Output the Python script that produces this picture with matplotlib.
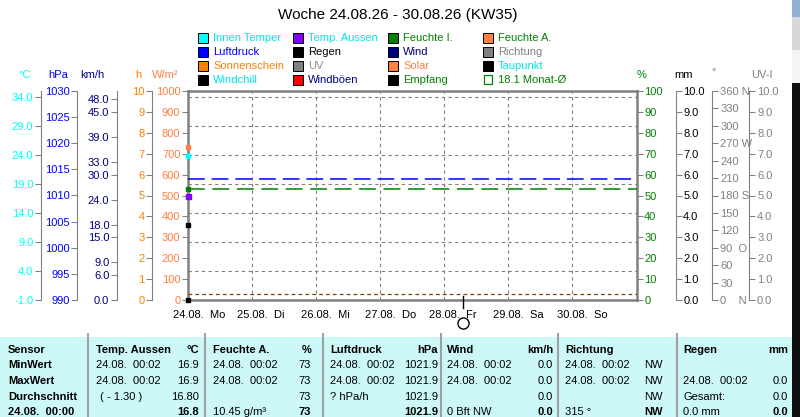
import matplotlib
matplotlib.use("Agg")
import matplotlib.pyplot as plt
from matplotlib.patches import Rectangle
from matplotlib.transforms import ScaledTranslation, blended_transform_factory

plt.rcParams['font.family'] = ['Liberation Sans', 'DejaVu Sans']

W, H = 800, 417

# ---- values ----
title = "Woche 24.08.26 - 30.08.26 (KW35)"
day_labels = ["24.08.  Mo", "25.08.  Di", "26.08.  Mi", "27.08.  Do",
              "28.08.  Fr", "29.08.  Sa", "30.08.  So"]
t_first = [0.0014]          # 24.08. 00:02 (days)
innen_temp = [23.8]         # degC
temp_aussen = [16.9]        # degC
taupunkt = [11.9]           # degC
feuchte_i = [53]            # %
feuchte_a = [73]            # %
regen = [0.0]               # mm
monat_mittel = 18.1         # degC, month average
frost = 0.0                 # degC
luftdruck_norm = 1013.25    # hPa
jetzt = 4.29                # cursor position (days)

temp_ticks = [-1, 4, 9, 14, 19, 24, 29, 34]
hpa_ticks = [990, 995, 1000, 1005, 1010, 1015, 1020, 1025, 1030]
kmh_ticks = [0, 6, 9, 15, 18, 24, 30, 33, 39, 45, 48]
sun_ticks = list(range(0, 11))
solar_ticks = list(range(0, 1001, 100))
pct_ticks = list(range(0, 101, 10))
mm_ticks = list(range(0, 11))
deg_ticks = list(range(0, 361, 30))
deg_labels = ["0    N", "30", "60", "90  O", "120", "150", "180 S", "210",
              "240", "270 W", "300", "330", "360 N"]
uv_ticks = list(range(0, 11))

legend_names = [["Innen Temper", "Temp. Aussen", "Feuchte I.", "Feuchte A."],
                ["Luftdruck", "Regen", "Wind", "Richtung"],
                ["Sonnenschein", "UV", "Solar", "Taupunkt"],
                ["Windchill", "Windböen", "Empfang", "18.1 Monat-Ø"]]
legend_box = [["#00ffff", "#8000ff", "#008000", "#ff8040"],
              ["#0000ff", "#000000", "#000080", "#808080"],
              ["#ff8000", "#808080", "#ff8040", "#000000"],
              ["#000000", "#ff0000", "#000000", None]]
legend_text = [["#00e8e8", "#00e8e8", "#008000", "#008000"],
               ["#0000ff", "#000000", "#000080", "#808080"],
               ["#ff8000", "#909090", "#ff8040", "#00e8e8"],
               ["#00e8e8", "#000080", "#008000", "#008000"]]

table_head = ["Temp. Aussen", "Feuchte A.", "Luftdruck", "Wind", "Richtung", "Regen"]
table_unit = ["°C", "%", "hPa", "km/h", "", "mm"]
row_names = ["Sensor", "MinWert", "MaxWert", "Durchschnitt", "24.08.  00:00"]
table_left = [["24.08.  00:02", "24.08.  00:02", "( - 1.30 )", ""],
              ["24.08.  00:02", "24.08.  00:02", "", "10.45 g/m³"],
              ["24.08.  00:02", "24.08.  00:02", "? hPa/h", ""],
              ["24.08.  00:02", "24.08.  00:02", "", "0 Bft NW"],
              ["24.08.  00:02", "24.08.  00:02", "", "315 °"],
              ["", "24.08.  00:02", "Gesamt:", "0.0 mm"]]
table_right = [["16.9", "16.9", "16.80", "16.8"],
               ["73", "73", "73", "73"],
               ["1021.9", "1021.9", "1021.9", "1021.9"],
               ["0.0", "0.0", "0.0", "0.0"],
               ["NW", "NW", "NW", "NW"],
               ["", "0.0", "0.0", "0.0"]]


def fx(x):
    return x / W


def fy(y):
    return 1 - y / H


GRAY = "#808080"
fig = plt.figure(figsize=(W / 100, H / 100), dpi=100)
L, R, T, B = 188, 636.5, 91, 300
ax = fig.add_axes([fx(L), fy(B), (R - L) / W, (B - T) / H])
ax.set_xlim(0, 7)
ax.set_ylim(0, 1000)
for s in ax.spines.values():
    s.set_color(GRAY)
    s.set_linewidth(1.8)
ax.set_yticks(solar_ticks)
ax.tick_params(axis='y', direction='out', length=4, width=0.75, color=GRAY,
               labelcolor="#ff8040", labelsize=8, pad=1.5)
ax.set_xticks(range(7))
ax.set_xticklabels(day_labels, fontsize=8)
ax.tick_params(axis='x', length=0, pad=7)
for lbl in ax.get_xticklabels():
    lbl.set_horizontalalignment('left')
    lbl.set_transform(lbl.get_transform() + ScaledTranslation(-0.15, 0, fig.dpi_scale_trans))
ax.xaxis.grid(True, color=GRAY, linestyle=(0, (3, 3)), linewidth=0.8)


def side_axis(pos, side, lim, ticks, color, labels=None):
    a = ax.twinx()
    a.set_ylim(*lim)
    for k, s in a.spines.items():
        s.set_visible(k == side)
    a.spines[side].set_position(('axes', pos))
    a.spines[side].set_color(GRAY)
    a.spines[side].set_linewidth(0.8)
    if side == 'left':
        a.yaxis.tick_left()
    else:
        a.yaxis.tick_right()
    a.set_yticks(ticks)
    if labels is not None:
        a.set_yticklabels(labels)
    a.tick_params(axis='y', direction='out', length=4, width=0.75, color=GRAY,
                  labelcolor=color, labelsize=8, pad=1.5)
    return a


ax_c = side_axis(-0.3278, 'left', (-1, 35.03), temp_ticks, "#00ffff")
ax_c.set_yticklabels([f"{v:.1f}" for v in temp_ticks])
ax_hpa = side_axis(-0.2464, 'left', (990, 1030), hpa_ticks, "#0000ff")
ax_kmh = side_axis(-0.1583, 'left', (0, 50), kmh_ticks, "#000080")
ax_kmh.set_yticklabels([f"{v:.1f}" for v in kmh_ticks])
ax_h = side_axis(-0.0792, 'left', (0, 10), sun_ticks, "#ff8000")
ax_pct = side_axis(1.0, 'right', (0, 100), pct_ticks, "#008000")
ax_pct.spines['right'].set_visible(False)
ax_mm = side_axis(1.0870, 'right', (0, 10), mm_ticks, "#000000",
                  [f"{v:.1f}" for v in mm_ticks])
ax_deg = side_axis(1.1693, 'right', (0, 360), deg_ticks, GRAY, deg_labels)
ax_uv = side_axis(1.2519, 'right', (0, 10), uv_ticks, GRAY,
                  [f"{v:.1f}" for v in uv_ticks])

ax_c.yaxis.grid(True, color=GRAY, linestyle=(0, (3, 3)), linewidth=0.8)

# reference lines
ax_hpa.axhline(luftdruck_norm, color="#0000ff", linewidth=1.1, linestyle=(0, (11, 4.5)))
ax_c.axhline(monat_mittel, color="#008000", linewidth=1.1, linestyle=(0, (11, 5)))
ax_c.axhline(frost, color="#804000", linewidth=0.9, linestyle=(0, (3, 2.5)))

# first readings
ax_pct.plot(t_first, feuchte_a, 's', color="#ff8040", ms=2.8, clip_on=False)
ax_pct.plot(t_first, feuchte_i, 's', color="#008000", ms=2.8, clip_on=False)
ax_c.plot(t_first, innen_temp, 's', color="#00ffff", ms=2.8, clip_on=False)
ax_c.plot(t_first, temp_aussen, 's', color="#8000ff", ms=3.6, clip_on=False)
ax_c.plot(t_first, taupunkt, 's', color="#000000", ms=2.6, clip_on=False)
ax_mm.plot(t_first, regen, 's', color="#000000", ms=2.6, clip_on=False)

# cursor
tr = blended_transform_factory(ax.transData, ax.transAxes)
ax_uv.plot([jetzt, jetzt], [0.02, -0.04], color="black", linewidth=1, transform=tr, clip_on=False)
ax_uv.plot([jetzt], [-0.11], 'o', mfc='none', mec='black', ms=8, mew=1, transform=tr, clip_on=False)

# unit labels
units = [("°C", 25, "#00ffff"), ("hPa", 58, "#0000ff"), ("km/h", 92, "#000080"),
         ("h", 138, "#ff8000"), ("W/m²", 165, "#ff8040"), ("%", 642, "#008000"),
         ("mm", 684, "#000000"), ("UV-I", 762, GRAY)]
for txt, x, c in units:
    fig.text(fx(x), fy(75), txt, color=c, fontsize=8, ha='center', va='center')
fig.text(fx(714), fy(72), "°", color=GRAY, fontsize=8, ha='center', va='center')

fig.text(fx(398), fy(15), title, fontsize=11, ha='center', va='center')

# legend
col_x = [198, 293, 388, 483]
row_y = [38, 52, 66, 80]
for r in range(4):
    for c in range(4):
        x, y = col_x[c], row_y[r]
        fc = legend_box[r][c]
        if fc is None:
            fig.patches.append(Rectangle((fx(x + 1), fy(y + 4)), 8 / W, 9 / H, fill=False,
                                         edgecolor="#008000", linewidth=0.9,
                                         transform=fig.transFigure))
        else:
            fig.patches.append(Rectangle((fx(x), fy(y + 5)), 10 / W, 10 / H, facecolor=fc,
                                         edgecolor="black", linewidth=0.7,
                                         transform=fig.transFigure))
        fig.text(fx(x + 15), fy(y), legend_names[r][c], color=legend_text[r][c],
                 fontsize=8, ha='left', va='center')

# table
fig.patches.append(Rectangle((0, 0), fx(792), fy(337), facecolor="#ccf8f8",
                             edgecolor='none', transform=fig.transFigure))
for x in [88, 205, 323, 441, 558, 677]:
    fig.add_artist(plt.Line2D([fx(x), fx(x)], [fy(334), 0], color="#a0a0a0",
                              linewidth=1.5, transform=fig.transFigure))
rows_y = [350, 365, 381, 397, 412]
left_x = [96, 213, 330, 447, 565, 683]
right_x = [199, 311, 438, 553, 663, 788]
for i, name in enumerate(row_names):
    fig.text(fx(8), fy(rows_y[i]), name, fontsize=8, fontweight='bold', va='center')
for c in range(6):
    fig.text(fx(left_x[c]), fy(rows_y[0]), table_head[c], fontsize=8,
             fontweight='bold', va='center')
    fig.text(fx(right_x[c]), fy(rows_y[0]), table_unit[c], fontsize=8,
             fontweight='bold', va='center', ha='right')
    for r in range(4):
        lx = left_x[c] + (4 if table_left[c][r].startswith("(") else 0)
        fig.text(fx(lx), fy(rows_y[r + 1]), table_left[c][r], fontsize=8, va='center')
        fig.text(fx(right_x[c]), fy(rows_y[r + 1]), table_right[c][r], fontsize=8,
                 va='center', ha='right', fontweight='bold' if r == 3 else 'normal')

# window edge on the right
fig.patches.append(Rectangle((fx(792), 0), fx(8), fy(83), facecolor="#101010",
                             edgecolor='none', transform=fig.transFigure))
fig.patches.append(Rectangle((fx(792), fy(83)), fx(8), 33 / H, facecolor="#f4f4f4",
                             edgecolor='none', transform=fig.transFigure))
fig.patches.append(Rectangle((fx(792), fy(50)), fx(8), 33 / H, facecolor="#d8d8d8",
                             edgecolor='none', transform=fig.transFigure))
fig.patches.append(Rectangle((fx(792), fy(17)), fx(8), 17 / H, facecolor="#8fb0d0",
                             edgecolor='none', transform=fig.transFigure))

fig.savefig("out.png", dpi=100)
